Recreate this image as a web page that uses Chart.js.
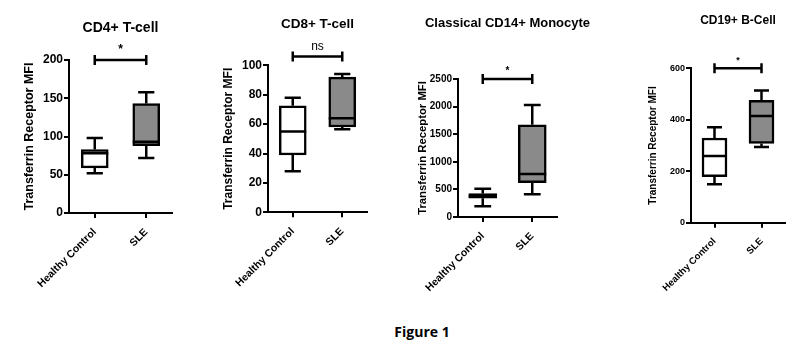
<!DOCTYPE html>
<html>
<head>
<meta charset="utf-8">
<title>Figure 1</title>
<script src="https://cdn.jsdelivr.net/npm/chart.js@4.4.1/dist/chart.umd.min.js"></script>
<style>
  body { margin: 0; background: #fff; }
  #wrap { position: relative; width: 807px; height: 351px; }
  canvas { position: absolute; top: 0; }
  #caption {
    position: absolute; left: 0; width: 844px; top: 322px; text-align: center;
    font: bold 14px 'Open Sans', 'Liberation Sans', sans-serif; color: #000;
  }
</style>
</head>
<body>
<div id="wrap">
  <canvas id="cd4" width="200" height="300" style="left:0px"></canvas>
  <canvas id="cd8" width="190" height="300" style="left:200px"></canvas>
  <canvas id="cd14" width="210" height="300" style="left:390px"></canvas>
  <canvas id="cd19" width="207" height="300" style="left:600px"></canvas>
  <div id="caption">Figure 1</div>
</div>
<script>
// groups on the x axis
const groups = ['Healthy Control', 'SLE'];

const panelTitles = ['CD4+ T-cell', 'CD8+ T-cell', 'Classical CD14+ Monocyte', 'CD19+ B-Cell'];
const yTitle = 'Transferrin Receptor MFI';
const yMax = [200, 100, 2500, 600];
const yStep = [50, 20, 500, 200];

// box plot values, [Healthy Control, SLE]
const cd4Min = [52, 72];
const cd4Q1 = [59, 88];
const cd4Median = [78, 93];
const cd4Q3 = [83, 143];
const cd4Max = [98, 158];

const cd8Min = [28, 56.5];
const cd8Q1 = [39, 58];
const cd8Median = [55, 64];
const cd8Q3 = [72.5, 92];
const cd8Max = [78, 94];

const cd14Min = [195, 410];
const cd14Q1 = [340, 620];
const cd14Median = [375, 780];
const cd14Q3 = [425, 1670];
const cd14Max = [510, 2030];

const cd19Min = [149, 294];
const cd19Q1 = [179, 308];
const cd19Median = [259, 415];
const cd19Q3 = [329, 476];
const cd19Max = [371, 514];

// significance bracket: level on y axis and its label
const sigLevels = [200, 106, 2500, 600];
const sigLabels = ['*', 'ns', '*', '*'];

const panels = [
  { id: 'cd4', min: cd4Min, q1: cd4Q1, med: cd4Median, q3: cd4Q3, max: cd4Max },
  { id: 'cd8', min: cd8Min, q1: cd8Q1, med: cd8Median, q3: cd8Q3, max: cd8Max },
  { id: 'cd14', min: cd14Min, q1: cd14Q1, med: cd14Median, q3: cd14Q3, max: cd14Max },
  { id: 'cd19', min: cd19Min, q1: cd19Q1, med: cd19Median, q3: cd19Q3, max: cd19Max }
];

// sizes / placement for each panel
const looks = [
  { padL: 18.5, yWidth: 50.5, padR: 28, padT: 60, xHeight: 87, titleSize: 14, titleY: 28, tick: 12, yTitle: 12.5, xTick: 10.5, box: 27, sigGap: 4 },
  { padL: 17.8, yWidth: 50.2, padR: 23, padT: 65.3, xHeight: 87.7, titleSize: 13.5, titleY: 24, tick: 12, yTitle: 12, xTick: 10.5, box: 27, sigGap: 4 },
  { padL: 22.2, yWidth: 45.8, padR: 43, padT: 79, xHeight: 83, titleSize: 13, titleY: 23, tick: 10, yTitle: 11.3, xTick: 10.5, box: 28, sigGap: 3 },
  { padL: 43, yWidth: 48, padR: 22, padT: 68.3, xHeight: 77.3, titleSize: 12, titleY: 21, tick: 9, yTitle: 10, xTick: 9.5, box: 25, sigGap: 3 }
];

const FONT = "'Liberation Sans', Arial, sans-serif";
const boxFill = ['#ffffff', '#8a8a8a'];

const boxExtras = {
  id: 'boxExtras',
  afterDatasetsDraw(chart, args, opts) {
    const { ctx, chartArea } = chart;
    const x = chart.scales.x;
    const y = chart.scales.y;
    const p = opts.panel;
    const look = opts.look;
    const cap = look.box * 0.3;
    ctx.save();
    ctx.strokeStyle = '#000';
    ctx.lineWidth = 2.5;
    ctx.lineCap = 'butt';
    groups.forEach((g, i) => {
      const cx = x.getPixelForValue(i);
      ctx.beginPath();
      // whiskers
      ctx.moveTo(cx, y.getPixelForValue(p.q1[i]));
      ctx.lineTo(cx, y.getPixelForValue(p.min[i]));
      ctx.moveTo(cx - cap, y.getPixelForValue(p.min[i]));
      ctx.lineTo(cx + cap, y.getPixelForValue(p.min[i]));
      ctx.moveTo(cx, y.getPixelForValue(p.q3[i]));
      ctx.lineTo(cx, y.getPixelForValue(p.max[i]));
      ctx.moveTo(cx - cap, y.getPixelForValue(p.max[i]));
      ctx.lineTo(cx + cap, y.getPixelForValue(p.max[i]));
      // median
      ctx.moveTo(cx - look.box / 2, y.getPixelForValue(p.med[i]));
      ctx.lineTo(cx + look.box / 2, y.getPixelForValue(p.med[i]));
      ctx.stroke();
    });
    // significance bracket
    const x0 = x.getPixelForValue(0);
    const x1 = x.getPixelForValue(1);
    const sy = y.getPixelForValue(sigLevels[opts.index]);
    ctx.beginPath();
    ctx.lineWidth = 2.5;
    ctx.moveTo(x0, sy); ctx.lineTo(x1, sy);
    ctx.moveTo(x0, sy - 5); ctx.lineTo(x0, sy + 5);
    ctx.moveTo(x1, sy - 5); ctx.lineTo(x1, sy + 5);
    ctx.stroke();
    ctx.fillStyle = '#000';
    ctx.textAlign = 'center';
    ctx.textBaseline = 'bottom';
    const lab = sigLabels[opts.index];
    ctx.font = (lab === 'ns' ? '' : 'bold ') + look.tick + 'px ' + FONT;
    ctx.fillText(lab, (x0 + x1) / 2, sy - look.sigGap);
    // panel title, centred over the plot area
    ctx.font = 'bold ' + look.titleSize + 'px ' + FONT;
    ctx.textBaseline = 'middle';
    ctx.fillText(panelTitles[opts.index], (chartArea.left + chartArea.right) / 2, look.titleY);
    ctx.restore();
  }
};

panels.forEach((p, idx) => {
  const look = looks[idx];
  new Chart(document.getElementById(p.id), {
    type: 'bar',
    data: {
      labels: groups,
      datasets: [{
        data: groups.map((g, i) => [p.q1[i], p.q3[i]]),
        backgroundColor: boxFill,
        borderColor: '#000',
        borderWidth: 2.5,
        borderSkipped: false,
        barThickness: look.box
      }]
    },
    options: {
      responsive: false,
      animation: false,
      layout: { padding: { left: look.padL, right: look.padR, top: look.padT, bottom: 0 } },
      plugins: {
        legend: { display: false },
        tooltip: { enabled: false },
        boxExtras: { panel: p, look: look, index: idx }
      },
      scales: {
        x: {
          afterFit: s => { s.height = look.xHeight; },
          border: { color: '#000', width: 2 },
          grid: { offset: false, drawOnChartArea: false, drawTicks: true, tickLength: 5, color: '#000', lineWidth: 2 },
          ticks: {
            color: '#000', autoSkip: false, minRotation: 45, maxRotation: 45, padding: 8,
            font: { family: FONT, size: look.xTick, weight: 'bold' }
          }
        },
        y: {
          min: 0,
          max: yMax[idx],
          afterFit: s => { s.width = look.yWidth; },
          border: { color: '#000', width: 2 },
          grid: { drawOnChartArea: false, drawTicks: true, tickLength: 5, color: '#000', lineWidth: 2 },
          ticks: {
            stepSize: yStep[idx], color: '#000', padding: 1,
            callback: v => String(v),
            font: { family: FONT, size: look.tick, weight: 'bold' }
          },
          title: {
            display: true, text: yTitle, color: '#000', padding: { top: 4, bottom: 0 },
            font: { family: FONT, size: look.yTitle, weight: 'bold' }
          }
        }
      }
    },
    plugins: [boxExtras]
  });
});
</script>
</body>
</html>
